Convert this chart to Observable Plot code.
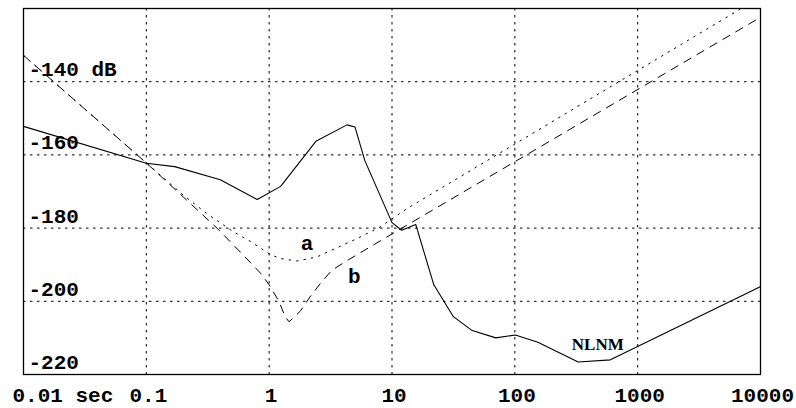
<!DOCTYPE html>
<html>
<head>
<meta charset="utf-8">
<script src="https://cdn.jsdelivr.net/npm/d3@7"></script>
<script src="https://cdn.jsdelivr.net/npm/@observablehq/plot@0.6"></script>
<style>
  html, body { margin: 0; padding: 0; background: #fff; }
</style>
</head>
<body>
<div id="chart"></div>
<script>
// NLNM (solid)
const nlnmT  = [0.01, 0.1, 0.17, 0.4, 0.8, 1.24, 2.4, 4.3, 5.0, 6.0, 10, 12, 15.6, 21.9, 31.6, 45, 70, 101, 154, 328, 600, 10000];
const nlnmDb = [-152.2, -162.3, -163.2, -166.8, -172.2, -168.6, -156.3, -151.8, -152.4, -161.5, -178.5, -180.6, -179.0, -195.5, -204.2, -208.0, -210.0, -209.2, -211.2, -216.6, -216.0, -196.0];

// curve a (dotted)
const aT  = [0.01, 0.1, 0.2, 0.31, 0.5, 0.7, 0.9, 1.02, 1.23, 1.68, 2.44, 3.24, 5.16, 8.0, 13.2, 6970];
const aDb = [-132.8, -162.2, -171.0, -176.0, -180.8, -183.6, -186.0, -187.2, -188.3, -189.0, -187.9, -186.0, -182.9, -179.7, -174.7, -120.0];

// curve b (dashed)
const bT  = [0.01, 0.1, 0.2, 0.376, 0.6, 0.85, 1.0, 1.2, 1.35, 1.45, 1.6, 1.8, 2.15, 2.6, 3.24, 4.4, 10, 10000];
const bDb = [-132.8, -162.2, -171.5, -180.0, -187.0, -192.3, -195.5, -200.0, -204.2, -205.6, -204.3, -202.6, -198.8, -195.2, -191.5, -188.7, -181.6, -122.4];

// grid and tick labels
const gridX = [0.1, 1, 10, 100, 1000];
const gridY = [-140, -160, -180, -200];
const xTickValues = [0.1, 1, 10, 100, 1000, 10000];
const xTickLabels = ["0.1", "1", "10", "100", "1000", "10000"];
const xFirstValue = 0.01;
const xFirstLabel = "0.01 sec";
const yTickValues = [-140, -160, -180, -200, -220];
const yTickLabels = ["-140 dB", "-160", "-180", "-200", "-220"];

// curve labels
const curveLabels = ["a", "b", "NLNM"];
const curveLabelT = [2.03, 4.94, 473];
const curveLabelDb = [-186.0, -195.0, -213.3];

const nlnm = nlnmT.map((t, i) => ({T: t, db: nlnmDb[i]}));
const ca = aT.map((t, i) => ({T: t, db: aDb[i]}));
const cb = bT.map((t, i) => ({T: t, db: bDb[i]}));
const xTicks = xTickValues.map((v, i) => ({v, label: xTickLabels[i]}));
const yTicks = yTickValues.map((v, i) => ({v, label: yTickLabels[i]}));
const smallLabels = curveLabels.slice(0, 2).map((s, i) => ({s, T: curveLabelT[i], db: curveLabelDb[i]}));
const bigLabels = [{s: curveLabels[2], T: curveLabelT[2], db: curveLabelDb[2]}];

const mono = "'Liberation Mono', 'Courier New', monospace";
const fs = 21;

const chart = Plot.plot({
  width: 796,
  height: 408,
  marginTop: 8,
  marginRight: 36,
  marginBottom: 34,
  marginLeft: 23,
  x: {type: "log", domain: [0.01, 10000], axis: null},
  y: {domain: [-220, -120], axis: null},
  style: {background: "#fff", color: "#000", fontFamily: mono},
  marks: [
    Plot.ruleX(gridX, {stroke: "#000", strokeWidth: 1, strokeDasharray: "2.5,4.5"}),
    Plot.ruleY(gridY, {stroke: "#000", strokeWidth: 1, strokeDasharray: "2.5,4.5"}),
    Plot.text(yTicks, {y: "v", text: "label", frameAnchor: "left", textAnchor: "start", lineAnchor: "bottom", dx: 5, dy: -5.5, fontFamily: mono, fontWeight: "bold", fontSize: fs, fill: "#000"}),
    Plot.line(ca, {x: "T", y: "db", stroke: "#000", strokeWidth: 1, strokeDasharray: "1.5,6", clip: true}),
    Plot.line(cb, {x: "T", y: "db", stroke: "#000", strokeWidth: 1, strokeDasharray: "8,7", clip: true}),
    Plot.line(nlnm, {x: "T", y: "db", stroke: "#000", strokeWidth: 1.1, clip: true}),
    Plot.text(smallLabels, {x: "T", y: "db", text: "s", lineAnchor: "bottom", fontFamily: mono, fontWeight: "bold", fontSize: fs, fill: "#000"}),
    Plot.text(bigLabels, {x: "T", y: "db", text: "s", lineAnchor: "bottom", fontFamily: "'Liberation Serif', 'Times New Roman', serif", fontWeight: "bold", fontSize: 17, fill: "#000"}),
    Plot.text(xTicks, {x: "v", text: "label", frameAnchor: "bottom", lineAnchor: "bottom", dx: 2, dy: 27, fontFamily: mono, fontWeight: "bold", fontSize: fs, fill: "#000"}),
    Plot.text([{v: xFirstValue, label: xFirstLabel}], {x: "v", text: "label", frameAnchor: "bottom", textAnchor: "start", lineAnchor: "bottom", dx: -11, dy: 27, fontFamily: mono, fontWeight: "bold", fontSize: fs, fill: "#000"}),
    Plot.frame({stroke: "#000", strokeWidth: 1.3})
  ]
});
document.getElementById("chart").appendChild(chart);
</script>
</body>
</html>
